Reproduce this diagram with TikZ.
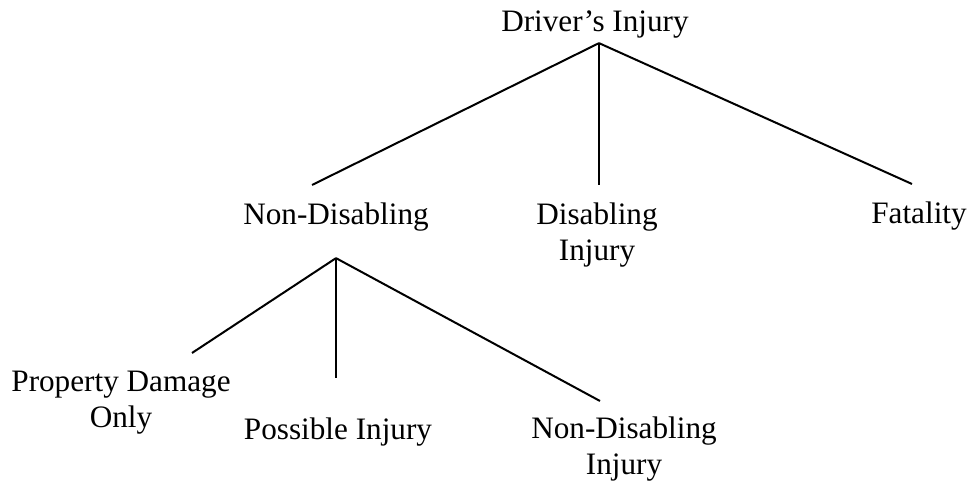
\documentclass[tikz,border=0pt]{standalone}
\usepackage{fontspec}
\setmainfont{Liberation Serif}
\tikzset{
  cat/.style={inner sep=0pt, anchor=base, align=center, font=\fontsize{15.6}{18}\selectfont},
  branch/.style={line width=1pt}
}
\begin{document}
\begin{tikzpicture}[x=0.5pt,y=0.5pt,yscale=-1,xscale=1]
        \useasboundingbox (0,0) rectangle (974,485);

        % Text Nodes (base = baseline of the last line)
        \node [cat] (root) at (595,32) {Driver’s Injury};
        \node [cat] (nd) at (336,225) {Non-Disabling};
        \node [cat] (dis) at (597,261) {Disabling\\Injury};
        \node [cat] (fat) at (919,224) {Fatality};
        \node [cat] (pdo) at (121,428) {Property Damage\\Only};
        \node [cat] (pos) at (338,440) {Possible Injury};
        \node [cat] (ndi) at (624,475) {Non-Disabling\\Injury};

        % forks and free ends
        \coordinate (fork1) at ([shift={(4,4)}]root.south);
        \coordinate (fork2) at ([shift={(0,26)}]nd.south);
        \coordinate (nd-end) at (312,185);
        \coordinate (dis-end) at (599,185);
        \coordinate (fat-end) at (912,184);
        \coordinate (pdo-end) at (192,353);
        \coordinate (pos-end) at (336,378);
        \coordinate (ndi-end) at (600,401);

        %Straight Lines
        \draw [branch] (fork1) -- (nd-end);
        \draw [branch] (fork1) -- (dis-end);
        \draw [branch] (fork1) -- (fat-end);
        \draw [branch] (fork2) -- (pdo-end);
        \draw [branch] (fork2) -- (pos-end);
        \draw [branch] (fork2) -- (ndi-end);
\end{tikzpicture}
\end{document}
